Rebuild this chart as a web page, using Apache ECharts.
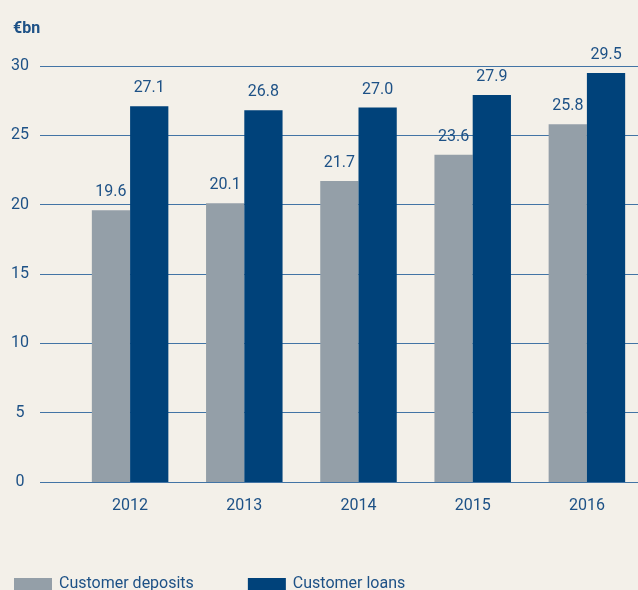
<!DOCTYPE html>
<html>
<head>
<meta charset="utf-8">
<script src="https://cdn.jsdelivr.net/npm/echarts@6/dist/echarts.min.js"></script>
<style>
  html, body { margin: 0; padding: 0; background: #f3f0e9; overflow: hidden; }
  #chart { width: 646px; height: 590px; }
</style>
</head>
<body>
<div id="chart"></div>
<script>
var years = ['2012', '2013', '2014', '2015', '2016'];
var deposits = [19.6, 20.1, 21.7, 23.6, 25.8];
var loans = [27.1, 26.8, 27.0, 27.9, 29.5];
var seriesNames = ['Customer deposits', 'Customer loans'];
var yMin = 0, yMax = 30, yStep = 5;

var textColor = '#1d5186';
var lineColor = '#4274a5';
var font = 'Roboto, sans-serif';

var myChart = echarts.init(document.getElementById('chart'));

var option = {
  animation: false,
  backgroundColor: '#f3f0e9',
  title: {
    text: '€bn',
    left: 8,
    top: 16,
    textStyle: { color: textColor, fontFamily: font, fontSize: 16, fontWeight: 'bold' }
  },
  legend: {
    left: 9,
    top: 571,
    itemWidth: 38,
    itemHeight: 12,
    itemGap: 54,
    icon: 'rect',
    textStyle: { color: textColor, fontFamily: font, fontSize: 16, padding: [0, 0, 0, 2] },
    data: seriesNames
  },
  // grid 0: gridlines + y labels, grid 1: bars
  grid: [
    { left: 40, right: 8, top: 66, bottom: 108 },
    { left: 73, right: 2, top: 66, bottom: 108 }
  ],
  xAxis: [
    { gridIndex: 0, type: 'value', show: false, min: 0, max: 1 },
    {
      gridIndex: 1,
      type: 'category',
      data: years,
      axisLine: { show: false },
      axisTick: { show: false },
      axisLabel: { color: textColor, fontFamily: font, fontSize: 16, margin: 16 }
    }
  ],
  yAxis: [
    {
      gridIndex: 0,
      type: 'value',
      min: yMin,
      max: yMax,
      interval: yStep,
      axisLine: { show: false },
      axisTick: { show: false },
      splitLine: { lineStyle: { color: lineColor, width: 1 } },
      axisLabel: {
        color: textColor, fontFamily: font, fontSize: 16,
        align: 'center', margin: 20,
        verticalAlign: 'middle', padding: [0, 0, 12, 0]
      }
    },
    {
      gridIndex: 1,
      type: 'value',
      min: yMin,
      max: yMax,
      interval: yStep,
      show: false
    }
  ],
  series: [
    {
      name: seriesNames[0],
      type: 'bar',
      xAxisIndex: 1,
      yAxisIndex: 1,
      data: deposits,
      barGap: 0,
      barCategoryGap: '33%',
      itemStyle: { color: '#949fa8' },
      label: {
        show: true, position: 'top', distance: 10,
        color: textColor, fontFamily: font, fontSize: 16,
        formatter: function (p) { return p.value.toFixed(1); }
      },
      z: 3
    },
    {
      name: seriesNames[1],
      type: 'bar',
      xAxisIndex: 1,
      yAxisIndex: 1,
      data: loans,
      barGap: 0,
      barCategoryGap: '33%',
      itemStyle: { color: '#00427a' },
      label: {
        show: true, position: 'top', distance: 10,
        color: textColor, fontFamily: font, fontSize: 16,
        formatter: function (p) { return p.value.toFixed(1); }
      },
      z: 3
    }
  ]
};

myChart.setOption(option);
</script>
</body>
</html>
